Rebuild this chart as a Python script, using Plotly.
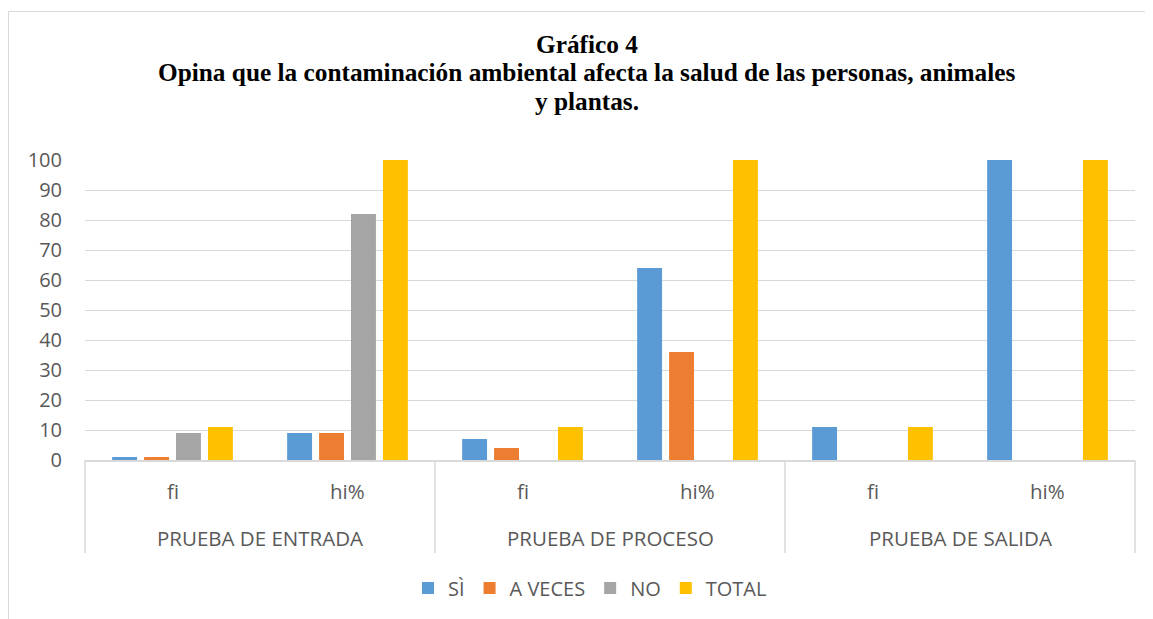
import plotly.graph_objects as go

groups = ["PRUEBA DE ENTRADA", "PRUEBA DE ENTRADA", "PRUEBA DE PROCESO", "PRUEBA DE PROCESO", "PRUEBA DE SALIDA", "PRUEBA DE SALIDA"]
measures = ["fi", "hi%", "fi", "hi%", "fi", "hi%"]

si = [1, 9, 7, 64, 11, 100]
a_veces = [1, 9, 4, 36, 0, 0]
no = [9, 82, 0, 0, 0, 0]
total = [11, 100, 11, 100, 11, 100]

title_lines = ["Gráfico 4",
               "Opina que la contaminación ambiental afecta la salud de las personas, animales",
               "y plantas."]

series = [("SÌ", si, "#5b9bd5"), ("A VECES", a_veces, "#ed7d31"), ("NO", no, "#a5a5a5"), ("TOTAL", total, "#ffc000")]

OFF = 8  # page offset of the figure (body margin)
W, H = 1153 - OFF, 619 - OFF
L, R, T, B = 85, 1135, 160, 460  # plot area in page pixels

def px_x(p):
    return (p - L) / (R - L)

def px_y(p):
    return (B - p) / (B - T)

fig = go.Figure()
for name, vals, col in series:
    fig.add_trace(go.Bar(x=[groups, measures], y=vals, name=name, marker_color=col, marker_line_width=0))

GRID = "#d9d9d9"
TXT = "#595959"
FONT = "Open Sans"

# outer chart frame
fig.add_shape(type="rect", xref="paper", yref="paper", x0=px_x(8.5), x1=px_x(1170), y0=px_y(11.5), y1=px_y(640),
              line=dict(color=GRID, width=1), fillcolor="rgba(0,0,0,0)", layer="below")

# category labels and dividers
n = len(measures)
for i, m in enumerate(measures):
    fig.add_annotation(xref="paper", yref="paper", x=(i + 0.5) / n, y=px_y(491), text=m, showarrow=False,
                       font=dict(family=FONT, size=20.5, color=TXT), xanchor="center", yanchor="middle")
uniq = []
for g in groups:
    if g not in uniq:
        uniq.append(g)
ng = len(uniq)
for j, g in enumerate(uniq):
    fig.add_annotation(xref="paper", yref="paper", x=(j + 0.5) / ng, y=px_y(538), text=g, showarrow=False,
                       font=dict(family=FONT, size=20.5, color=TXT), xanchor="center", yanchor="middle")
for j in range(ng + 1):
    fig.add_shape(type="line", xref="paper", yref="paper", x0=j / ng, x1=j / ng, y0=0, y1=px_y(553),
                  line=dict(color=GRID, width=1.5))

# title lines
for k, (line, yy) in enumerate(zip(title_lines, [44, 72.5, 101])):
    fig.add_annotation(xref="paper", yref="paper", x=px_x(587), y=px_y(yy), text="<b>" + line + "</b>", showarrow=False,
                       font=dict(family="Liberation Serif", size=25.3, color="black"), xanchor="center", yanchor="middle")

fig.update_layout(
    width=W, height=H,
    margin=dict(l=L - OFF, r=(W + OFF) - R, t=T - OFF, b=(H + OFF) - B),
    paper_bgcolor="white", plot_bgcolor="white",
    barmode="group", bargap=0.27, bargroupgap=0.22,
    font=dict(family=FONT, color=TXT),
    legend=dict(orientation="h", x=px_x(590), xanchor="center", y=px_y(588), yanchor="middle",
                font=dict(size=20, color=TXT), itemwidth=30, traceorder="normal"),
    yaxis=dict(range=[0, 100], dtick=10, showgrid=True, gridcolor=GRID, gridwidth=1,
               tickfont=dict(size=20, color=TXT), zeroline=False, showline=False, ticks="",
               ticklabelstandoff=22),
    xaxis=dict(type="multicategory", showline=True, linecolor=GRID, linewidth=1.5,
               showticklabels=False, showdividers=False, ticks=""),
)

fig.write_html("out.html")
